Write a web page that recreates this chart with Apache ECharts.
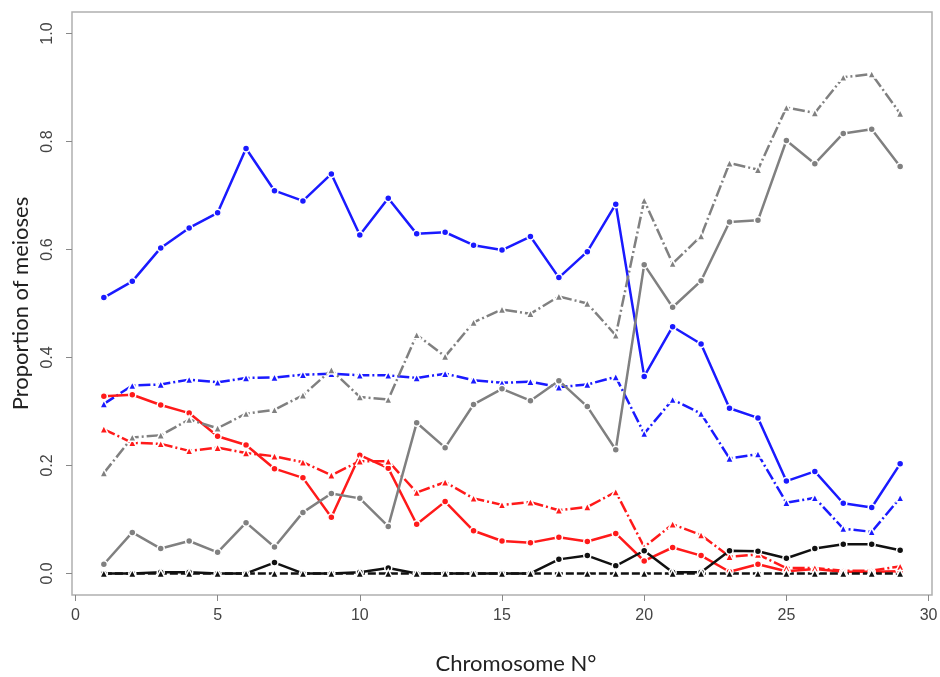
<!DOCTYPE html>
<html>
<head>
<meta charset="utf-8">
<script src="https://cdn.jsdelivr.net/npm/echarts@6/dist/echarts.min.js"></script>
<style>
  html, body { margin: 0; padding: 0; background: #fff; }
  #chart { width: 940px; height: 677px; }
</style>
</head>
<body>
<div id="chart"></div>
<script>
// chromosome numbers on x
const chromosomes = [1,2,3,4,5,6,7,8,9,10,11,12,13,14,15,16,17,18,19,20,21,22,23,24,25,26,27,28,29]
const xTicks = [0, 5, 10, 15, 20, 25, 30]
const yTicks = [0, 0.2, 0.4, 0.6, 0.8, 1.0]

// values
const blueSolid = [0.511,0.541,0.603,0.640,0.668,0.787,0.709,0.690,0.740,0.627,0.695,0.629,0.632,0.608,0.599,0.624,0.548,0.596,0.684,0.365,0.457,0.425,0.306,0.288,0.171,0.189,0.130,0.122,0.203]
const blueDash = [0.314,0.348,0.350,0.359,0.354,0.362,0.363,0.368,0.370,0.367,0.367,0.362,0.370,0.358,0.353,0.355,0.345,0.350,0.364,0.259,0.322,0.296,0.213,0.221,0.131,0.140,0.083,0.077,0.140]
const redSolid = [0.328,0.331,0.312,0.297,0.254,0.238,0.194,0.177,0.104,0.219,0.195,0.091,0.133,0.079,0.060,0.057,0.067,0.059,0.074,0.023,0.048,0.033,0.003,0.017,0.004,0.008,0.003,0.003,0.004]
const redDash = [0.267,0.242,0.240,0.227,0.233,0.223,0.217,0.206,0.182,0.208,0.208,0.150,0.169,0.139,0.127,0.132,0.117,0.123,0.151,0.049,0.091,0.071,0.031,0.035,0.010,0.010,0.005,0.005,0.013]
const graySolid = [0.017,0.076,0.046,0.060,0.039,0.094,0.049,0.113,0.148,0.139,0.087,0.279,0.233,0.313,0.342,0.320,0.357,0.309,0.229,0.572,0.493,0.542,0.651,0.654,0.802,0.759,0.815,0.823,0.754]
const grayDash = [0.186,0.252,0.256,0.285,0.269,0.296,0.303,0.330,0.377,0.327,0.322,0.442,0.402,0.465,0.489,0.481,0.513,0.500,0.441,0.691,0.574,0.625,0.760,0.748,0.863,0.853,0.919,0.925,0.852]
const blackSolid = [0,0,0.002,0.002,0,0,0.020,0,0,0.002,0.010,0,0,0,0,0,0.026,0.033,0.014,0.042,0.002,0.002,0.042,0.041,0.028,0.046,0.054,0.054,0.043]
const blackDash = [0,0,0,0,0,0,0,0,0,0,0,0,0,0,0,0,0,0,0,0,0,0,0,0,0,0,0,0,0]

const pairs = vals => chromosomes.map((c, i) => [c, vals[i]])

function line (vals, color, symbol, dash) {
  return {
    type: 'line',
    data: pairs(vals),
    symbol: symbol,
    symbolSize: symbol === 'triangle' ? 8 : 7,
    showSymbol: true,
    animation: false,
    lineStyle: { color: color, width: 2.5, type: dash },
    itemStyle: { color: color, borderColor: '#fff', borderWidth: 1.5 }
  }
}

const dashDot = [12, 3, 2, 3]

let chart = echarts.init(document.getElementById('chart'))
chart.setOption({
  animation: false,
  grid: {
    left: 72, right: 8, top: 12, bottom: 82,
    outerBoundsMode: 'none',
    show: true, borderColor: '#b0b0b0', borderWidth: 1.5
  },
  xAxis: {
    type: 'value',
    min: -0.12,
    max: 30.12,
    name: 'Chromosome N°',
    nameLocation: 'middle',
    nameGap: 58,
    nameTextStyle: { fontFamily: 'Lato', fontSize: 22, color: '#222', padding: [0, 0, 0, 28] },
    axisLine: { show: false, onZero: false },
    splitLine: { show: false },
    axisTick: { show: true, customValues: xTicks, length: 6, lineStyle: { color: '#888' } },
    axisLabel: {
      customValues: xTicks,
      margin: 13,
      fontFamily: 'Liberation Sans',
      fontSize: 16,
      color: '#444'
    }
  },
  yAxis: {
    type: 'value',
    min: -0.04,
    max: 1.04,
    name: 'Proportion of meioses',
    nameLocation: 'middle',
    nameGap: 40,
    nameTextStyle: { fontFamily: 'Lato', fontSize: 22, color: '#222' },
    axisLine: { show: false, onZero: false },
    splitLine: { show: false },
    axisTick: { show: true, customValues: yTicks, length: 6, lineStyle: { color: '#888' } },
    axisLabel: {
      customValues: yTicks,
      rotate: 90,
      margin: 16,
      fontFamily: 'Liberation Sans',
      fontSize: 16,
      color: '#444',
      formatter: v => v.toFixed(1)
    }
  },
  series: [
    line(blueSolid, '#1a1aff', 'circle', 'solid'),
    line(blueDash, '#1a1aff', 'triangle', dashDot),
    line(redSolid, '#ff1a1a', 'circle', 'solid'),
    line(redDash, '#ff1a1a', 'triangle', dashDot),
    line(graySolid, '#808080', 'circle', 'solid'),
    line(grayDash, '#808080', 'triangle', dashDot),
    line(blackSolid, '#111111', 'circle', 'solid'),
    line(blackDash, '#111111', 'triangle', [8, 3])
  ]
})
</script>
</body>
</html>
